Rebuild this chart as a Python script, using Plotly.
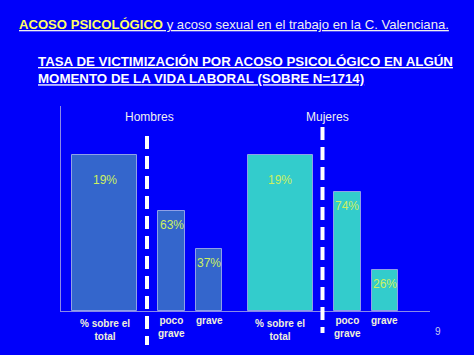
import plotly.graph_objects as go

# ---- data ----
groups = ["Hombres", "Mujeres"]
categories = ["% sobre el<br>total", "poco<br>grave", "grave"]
bar_heights_hombres = [100, 64, 40]
bar_heights_mujeres = [100, 76, 26]
value_labels_hombres = ["19%", "63%", "37%"]
value_labels_mujeres = ["19%", "74%", "26%"]

# ---- layout / style ----
W, H = 474, 355
ML, MR, MT, MB = 61, 44, 106, 44
PW, PH = W - ML - MR, H - MT - MB
BG = "#0000FA"
colors = ["#3466CC", "#33CCCC"]
slot_pos = [43.5, 110.5, 148]      # within-group bar centres (x units)
slot_w = [65, 27, 26]
group_offset = 175.5
divider_pos = 86
YMAX = PH / 1.56
FONT = "Liberation Sans, Arial, sans-serif"


def px(xp):
    return (xp - ML) / PW


def py(yp):
    return (H - MB - yp) / PH


fig = go.Figure()
annotations = []
shapes = []

all_heights = [bar_heights_hombres, bar_heights_mujeres]
all_labels = [value_labels_hombres, value_labels_mujeres]
div_y = [(136, 345), (127, 333)]

for gi, g in enumerate(groups):
    xs = [p + gi * group_offset for p in slot_pos]
    fig.add_trace(go.Bar(
        x=xs, y=all_heights[gi], width=slot_w,
        marker=dict(color=colors[gi], line=dict(color="#8FA0E8", width=1)),
        name=g, showlegend=False, hoverinfo="skip",
    ))
    for k, (xv, hv, lab) in enumerate(zip(xs, all_heights[gi], all_labels[gi])):
        annotations.append(dict(
            x=xv, y=hv, xref="x", yref="y", text=lab, showarrow=False,
            yanchor="top", yshift=-16 if k == 0 else -5,
            font=dict(family=FONT, size=12, color="#CCF060"),
        ))
        annotations.append(dict(
            x=xv, y=py(316 if k == 0 else 313), xref="x", yref="paper",
            text="<b>" + categories[k] + "</b>",
            showarrow=False, yanchor="top",
            font=dict(family=FONT, size=10, color="#F0F0D8"),
        ))
    dx = divider_pos + gi * group_offset
    annotations.append(dict(
        x=dx + (2 if gi == 0 else 5), y=py(117), xref="x", yref="paper", text=g,
        showarrow=False, yanchor="middle",
        font=dict(family=FONT, size=12, color="#F0F0F0"),
    ))
    shapes.append(dict(
        type="line", xref="paper", yref="paper",
        x0=dx / PW, x1=dx / PW, y0=py(div_y[gi][0]), y1=py(div_y[gi][1]),
        line=dict(color="white", width=4, dash="13px,7px"),
    ))

fig.update_layout(
    width=W, height=H,
    margin=dict(l=ML, r=MR, t=MT, b=MB),
    paper_bgcolor=BG, plot_bgcolor=BG,
    bargap=0,
    xaxis=dict(range=[0, PW], showgrid=False, zeroline=False,
               showticklabels=False, ticks="", showline=True,
               linecolor="#8A8AE8", linewidth=1),
    yaxis=dict(range=[0, YMAX], showgrid=False, zeroline=False,
               showticklabels=False, ticks="", showline=True,
               linecolor="#8A8AE8", linewidth=1),
    shapes=shapes,
    annotations=annotations + [
        dict(x=px(17), y=py(24), xref="paper", yref="paper", xanchor="left",
             yanchor="middle", showarrow=False,
             text="<u><b><span style='color:#FFFF66'>ACOSO PSICOLÓGICO</span></b> y acoso sexual en el trabajo en la C. Valenciana.</u>",
             font=dict(family=FONT, size=13.1, color="#F0F0F0")),
        dict(x=px(36), y=py(70), xref="paper", yref="paper", xanchor="left",
             yanchor="middle", showarrow=False, align="left",
             text="<u><b>TASA DE VICTIMIZACIÓN POR ACOSO PSICOLÓGICO EN ALGÚN</b></u><br><u><b>MOMENTO DE LA VIDA LABORAL (SOBRE N=1714)</b></u>",
             font=dict(family=FONT, size=13.3, color="#FFFFFF")),
        dict(x=px(443), y=py(331), xref="paper", yref="paper",
             yanchor="middle", showarrow=False, text="9",
             font=dict(family=FONT, size=10, color="#C8C8F0")),
    ],
)

fig.write_html("out.html", config={"displayModeBar": False},
               post_script="document.body.style.margin='0';")
